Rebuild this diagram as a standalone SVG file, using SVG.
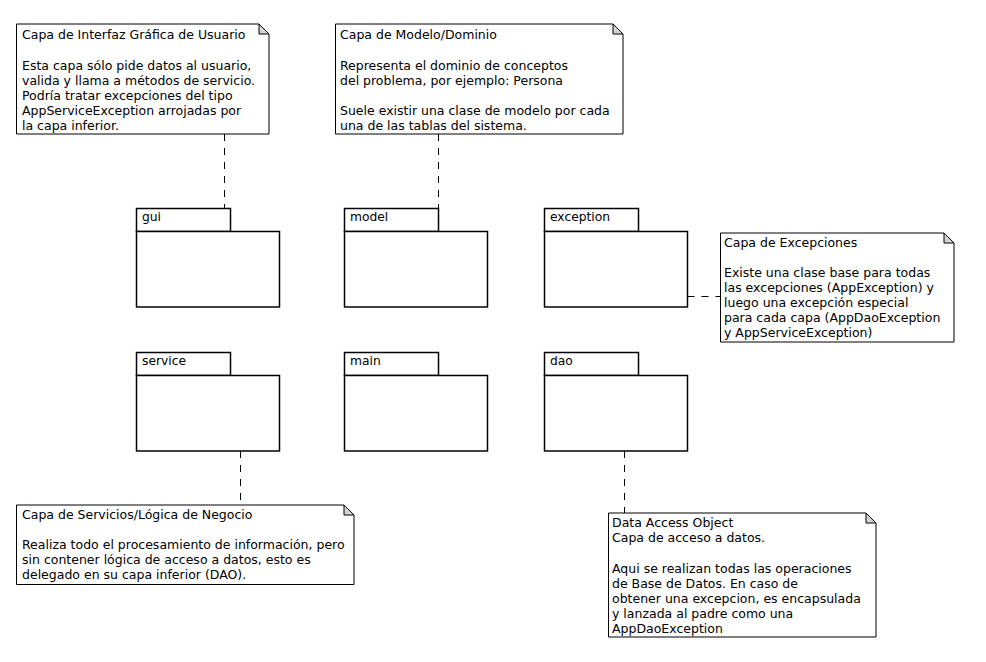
<svg xmlns="http://www.w3.org/2000/svg" width="986" height="662" viewBox="0 0 986 662">
<style>
.note{fill:#FFFFFF;stroke:#000000;stroke-width:1}
.fold{fill:#D3D3D3;stroke:#000000;stroke-width:1}
.pkg{fill:#FFFFFF;stroke:#000000;stroke-width:1.5}
.t{font-family:"DejaVu Sans",sans-serif;font-size:12.5px;fill:#000000}
.pt{font-family:"DejaVu Sans",sans-serif;font-size:12.3px;fill:#000000}
.con{stroke:#000000;stroke-width:1;stroke-dasharray:7,7;fill:none}
</style>
<rect width="986" height="662" fill="#FFFFFF"/>
<g id="connectors">
<line class="con" x1="224.5" y1="134" x2="224.5" y2="208"/>
<line class="con" x1="438.5" y1="134" x2="438.5" y2="208"/>
<line class="con" x1="687.5" y1="296.5" x2="720" y2="296.5"/>
<line class="con" x1="240.5" y1="451" x2="240.5" y2="505"/>
<line class="con" x1="624.5" y1="451" x2="624.5" y2="513"/>
</g>
<g id="note-gui">
<path class="note" d="M16.5,24 L259,24 L269,34 L269,134 L16.5,134 Z"/>
<path class="fold" d="M259,24 L259,34 L269,34 Z"/>
<text class="t" x="22" y="39">Capa de Interfaz Gráfica de Usuario</text>
<text class="t" x="22" y="69.5">Esta capa sólo pide datos al usuario,</text>
<text class="t" x="22" y="84.7">valida y llama a métodos de servicio.</text>
<text class="t" x="22" y="99.9">Podría tratar excepciones del tipo</text>
<text class="t" x="22" y="115.1">AppServiceException arrojadas por</text>
<text class="t" x="22" y="130.3">la capa inferior.</text>
</g>
<g id="note-model">
<path class="note" d="M335.5,24 L613,24 L623,34 L623,134 L335.5,134 Z"/>
<path class="fold" d="M613,24 L613,34 L623,34 Z"/>
<text class="t" x="340" y="39">Capa de Modelo/Dominio</text>
<text class="t" x="340" y="69.5">Representa el dominio de conceptos</text>
<text class="t" x="340" y="84.7">del problema, por ejemplo: Persona</text>
<text class="t" x="340" y="115.1">Suele existir una clase de modelo por cada</text>
<text class="t" x="340" y="130.3">una de las tablas del sistema.</text>
</g>
<g id="pkg-gui">
<rect class="pkg" x="136.5" y="208.5" width="94" height="23"/>
<rect class="pkg" x="136.5" y="231.5" width="143" height="75.5"/>
<text class="pt" x="142" y="221">gui</text>
</g>
<g id="pkg-model">
<rect class="pkg" x="344.5" y="208.5" width="94" height="23"/>
<rect class="pkg" x="344.5" y="231.5" width="143" height="75.5"/>
<text class="pt" x="350" y="221">model</text>
</g>
<g id="pkg-exception">
<rect class="pkg" x="544.5" y="208.5" width="94" height="23"/>
<rect class="pkg" x="544.5" y="231.5" width="143" height="75.5"/>
<text class="pt" x="550" y="221">exception</text>
</g>
<g id="note-exception">
<path class="note" d="M720.5,233 L944,233 L954,243 L954,342 L720.5,342 Z"/>
<path class="fold" d="M944,233 L944,243 L954,243 Z"/>
<text class="t" x="724" y="247">Capa de Excepciones</text>
<text class="t" x="724" y="276.5">Existe una clase base para todas</text>
<text class="t" x="724" y="291.7">las excepciones (AppException) y</text>
<text class="t" x="724" y="306.9">luego una excepción especial</text>
<text class="t" x="724" y="322.1">para cada capa (AppDaoException</text>
<text class="t" x="724" y="337.3">y AppServiceException)</text>
</g>
<g id="pkg-service">
<rect class="pkg" x="136.5" y="352.5" width="94" height="23"/>
<rect class="pkg" x="136.5" y="375.5" width="143" height="75.5"/>
<text class="pt" x="142" y="365">service</text>
</g>
<g id="pkg-main">
<rect class="pkg" x="344.5" y="352.5" width="94" height="23"/>
<rect class="pkg" x="344.5" y="375.5" width="143" height="75.5"/>
<text class="pt" x="350" y="365">main</text>
</g>
<g id="pkg-dao">
<rect class="pkg" x="544.5" y="352.5" width="94" height="23"/>
<rect class="pkg" x="544.5" y="375.5" width="143" height="75.5"/>
<text class="pt" x="550" y="365">dao</text>
</g>
<g id="note-service">
<path class="note" d="M16.5,505 L344,505 L354,515 L354,584.5 L16.5,584.5 Z"/>
<path class="fold" d="M344,505 L344,515 L354,515 Z"/>
<text class="t" x="22" y="519">Capa de Servicios/Lógica de Negocio</text>
<text class="t" x="22" y="549">Realiza todo el procesamiento de información, pero</text>
<text class="t" x="22" y="564.2">sin contener lógica de acceso a datos, esto es</text>
<text class="t" x="22" y="579.4">delegado en su capa inferior (DAO).</text>
</g>
<g id="note-dao">
<path class="note" d="M608.5,513 L866,513 L876,523 L876,637 L608.5,637 Z"/>
<path class="fold" d="M866,513 L866,523 L876,523 Z"/>
<text class="t" x="612" y="527">Data Access Object</text>
<text class="t" x="612" y="542.2">Capa de acceso a datos.</text>
<text class="t" x="612" y="572.6">Aqui se realizan todas las operaciones</text>
<text class="t" x="612" y="587.8">de Base de Datos. En caso de</text>
<text class="t" x="612" y="603">obtener una excepcion, es encapsulada</text>
<text class="t" x="612" y="618.2">y lanzada al padre como una</text>
<text class="t" x="612" y="633.4">AppDaoException</text>
</g>
</svg>
